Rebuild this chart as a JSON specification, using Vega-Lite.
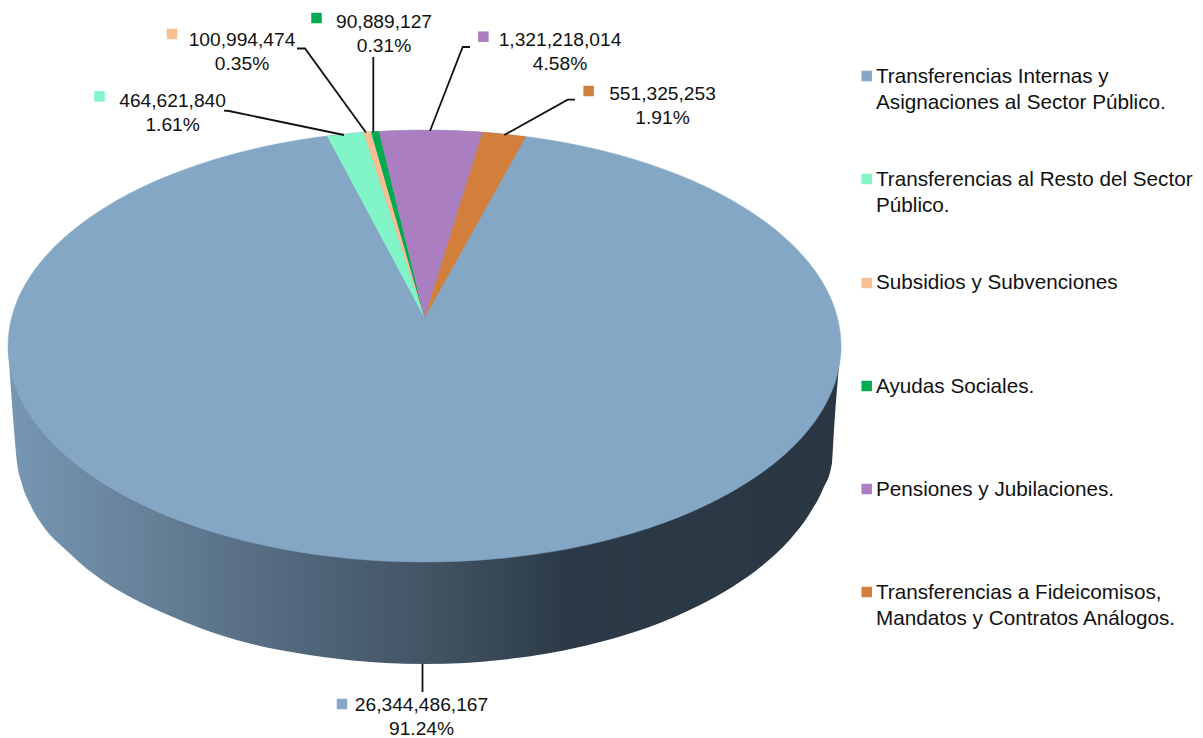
{
"$schema":"https://vega.github.io/schema/vega-lite/v6.json",
"width":1203,"height":738,
"autosize":{"type":"none"},
"padding":0,
"background":"white",
"view":{"stroke":null},
"config":{"font":"Liberation Sans"},
"datasets":{
"wall":[{"x":8,"y":346,"y2":346},{"x":14,"y":346,"y2":430},{"x":16.7,"y":346,"y2":460},{"x":21.7,"y":346,"y2":483},{"x":30,"y":346,"y2":504},{"x":43,"y":346,"y2":526},{"x":67,"y":346,"y2":551},{"x":93,"y":346,"y2":573.6},{"x":133,"y":346,"y2":598.6},{"x":167,"y":346,"y2":614.5},{"x":200,"y":346,"y2":628},{"x":250,"y":346,"y2":643.5},{"x":300,"y":346,"y2":653.6},{"x":350,"y":346,"y2":660.3},{"x":385,"y":346,"y2":663},{"x":424.5,"y":346,"y2":664},{"x":465,"y":346,"y2":662.9},{"x":500,"y":346,"y2":660},{"x":550,"y":346,"y2":653},{"x":600,"y":346,"y2":642},{"x":650,"y":346,"y2":626.7},{"x":700,"y":346,"y2":605},{"x":733,"y":346,"y2":586.5},{"x":763,"y":346,"y2":565},{"x":790,"y":346,"y2":539.5},{"x":810,"y":346,"y2":513},{"x":823,"y":346,"y2":489},{"x":832,"y":346,"y2":463},{"x":834,"y":346,"y2":430},{"x":841,"y":346,"y2":346}],
"top":[{"i":0,"x":841,"y":346},{"i":1,"x":834.7,"y":383.5},{"i":2,"x":815.9,"y":419.9},{"i":3,"x":785.2,"y":454},{"i":4,"x":743.5,"y":484.8},{"i":5,"x":692.2,"y":511.5},{"i":6,"x":632.8,"y":533.1},{"i":7,"x":566.9,"y":549},{"i":8,"x":496.8,"y":558.7},{"i":9,"x":424.5,"y":562},{"i":10,"x":352.2,"y":558.7},{"i":11,"x":282.1,"y":549},{"i":12,"x":216.2,"y":533.1},{"i":13,"x":156.8,"y":511.5},{"i":14,"x":105.5,"y":484.8},{"i":15,"x":63.8,"y":454},{"i":16,"x":33.1,"y":419.9},{"i":17,"x":14.3,"y":383.5},{"i":18,"x":8,"y":346},{"i":19,"x":14.3,"y":308.5},{"i":20,"x":33.1,"y":272.1},{"i":21,"x":63.8,"y":238},{"i":22,"x":105.5,"y":207.2},{"i":23,"x":156.8,"y":180.5},{"i":24,"x":216.2,"y":158.9},{"i":25,"x":282.1,"y":143},{"i":26,"x":352.2,"y":133.3},{"i":27,"x":424.5,"y":130},{"i":28,"x":496.8,"y":133.3},{"i":29,"x":566.9,"y":143},{"i":30,"x":632.8,"y":158.9},{"i":31,"x":692.2,"y":180.5},{"i":32,"x":743.5,"y":207.2},{"i":33,"x":785.2,"y":238},{"i":34,"x":815.9,"y":272.1},{"i":35,"x":834.7,"y":308.5}],
"wedges":[
{"c":"Transferencias al Resto del Sector Público.","i":0,"x":424.5,"y":318},{"c":"Transferencias al Resto del Sector Público.","i":1,"x":327,"y":136},{"c":"Transferencias al Resto del Sector Público.","i":2,"x":345,"y":134},{"c":"Transferencias al Resto del Sector Público.","i":3,"x":363.5,"y":132.3},
{"c":"Subsidios y Subvenciones","i":0,"x":424.5,"y":318},{"c":"Subsidios y Subvenciones","i":1,"x":363.5,"y":132.3},{"c":"Subsidios y Subvenciones","i":2,"x":371,"y":131.8},
{"c":"Ayudas Sociales.","i":0,"x":424.5,"y":318},{"c":"Ayudas Sociales.","i":1,"x":371,"y":131.8},{"c":"Ayudas Sociales.","i":2,"x":379,"y":131.3},
{"c":"Pensiones y Jubilaciones.","i":0,"x":424.5,"y":318},{"c":"Pensiones y Jubilaciones.","i":1,"x":379,"y":131.3},{"c":"Pensiones y Jubilaciones.","i":2,"x":400,"y":130.4},{"c":"Pensiones y Jubilaciones.","i":3,"x":424.5,"y":130},{"c":"Pensiones y Jubilaciones.","i":4,"x":455,"y":130.6},{"c":"Pensiones y Jubilaciones.","i":5,"x":482.5,"y":132.1},
{"c":"Transferencias a Fideicomisos, Mandatos y Contratos Análogos.","i":0,"x":424.5,"y":318},{"c":"Transferencias a Fideicomisos, Mandatos y Contratos Análogos.","i":1,"x":482.5,"y":132.1},{"c":"Transferencias a Fideicomisos, Mandatos y Contratos Análogos.","i":2,"x":505,"y":134.1},{"c":"Transferencias a Fideicomisos, Mandatos y Contratos Análogos.","i":3,"x":526,"y":136.5}
],
"leaders":[
{"c":"a","i":0,"x":422.5,"y":664},{"c":"a","i":1,"x":422.5,"y":692},
{"c":"b","i":0,"x":224,"y":110.7},{"c":"b","i":1,"x":229,"y":111},{"c":"b","i":2,"x":344,"y":135},
{"c":"c","i":0,"x":297,"y":48.5},{"c":"c","i":1,"x":305,"y":48.5},{"c":"c","i":2,"x":366,"y":132.5},
{"c":"d","i":0,"x":373.3,"y":57},{"c":"d","i":1,"x":373.3,"y":132},
{"c":"e","i":0,"x":470,"y":47},{"c":"e","i":1,"x":462.7,"y":47},{"c":"e","i":2,"x":430,"y":131},
{"c":"f","i":0,"x":575,"y":99.7},{"c":"f","i":1,"x":567.7,"y":99.7},{"c":"f","i":2,"x":504.3,"y":135}
],
"labels":[
{"c":"Transferencias Internas y Asignaciones al Sector Público.","t":"26,344,486,167\n91.24%","x":421.5,"y":710.5,"sx":342,"sy":704},
{"c":"Transferencias al Resto del Sector Público.","t":"464,621,840\n1.61%","x":172.6,"y":107,"sx":99.5,"sy":96.3},
{"c":"Subsidios y Subvenciones","t":"100,994,474\n0.35%","x":242,"y":45.7,"sx":172,"sy":34},
{"c":"Ayudas Sociales.","t":"90,889,127\n0.31%","x":384,"y":28.3,"sx":316.5,"sy":18},
{"c":"Pensiones y Jubilaciones.","t":"1,321,218,014\n4.58%","x":560,"y":45.7,"sx":483.4,"sy":36.7},
{"c":"Transferencias a Fideicomisos, Mandatos y Contratos Análogos.","t":"551,325,253\n1.91%","x":662.5,"y":100,"sx":588.6,"sy":91}
],
"legend":[
{"c":"Transferencias Internas y Asignaciones al Sector Público.","t":"Transferencias Internas y\nAsignaciones al Sector Público.","x":876,"y":83,"sx":866.7,"sy":76},
{"c":"Transferencias al Resto del Sector Público.","t":"Transferencias al Resto del Sector\nPúblico.","x":876,"y":186,"sx":866.7,"sy":179},
{"c":"Subsidios y Subvenciones","t":"Subsidios y Subvenciones","x":876,"y":289,"sx":866.7,"sy":283},
{"c":"Ayudas Sociales.","t":"Ayudas Sociales.","x":876,"y":393,"sx":866.7,"sy":386},
{"c":"Pensiones y Jubilaciones.","t":"Pensiones y Jubilaciones.","x":876,"y":496,"sx":866.7,"sy":489},
{"c":"Transferencias a Fideicomisos, Mandatos y Contratos Análogos.","t":"Transferencias a Fideicomisos,\nMandatos y Contratos Análogos.","x":876,"y":599,"sx":866.7,"sy":592}
]
},
"encoding":{
"x":{"field":"x","type":"quantitative","scale":{"domain":[0,1203],"nice":false,"zero":false},"axis":null},
"y":{"field":"y","type":"quantitative","scale":{"domain":[738,0],"nice":false,"zero":false},"axis":null}
},
"layer":[
{"data":{"name":"wall"},
 "mark":{"type":"area","interpolate":"monotone","fill":{"gradient":"linear","x1":0,"x2":1,"y1":0,"y2":0,"stops":[{"offset":0,"color":"#7797b3"},{"offset":0.17,"color":"#668098"},{"offset":0.34,"color":"#52687d"},{"offset":0.5,"color":"#435565"},{"offset":0.67,"color":"#2c3a47"},{"offset":1,"color":"#2a3743"}]}},
 "encoding":{"y2":{"field":"y2"}}},
{"data":{"name":"top"},
 "mark":{"type":"line","interpolate":"cardinal-closed","fill":"#85A7C6","stroke":"#85A7C6","strokeWidth":0.5},
 "encoding":{"order":{"field":"i","type":"quantitative"}}},
{"data":{"name":"wedges"},
 "mark":{"type":"line","strokeWidth":0,"stroke":null},
 "encoding":{"order":{"field":"i","type":"quantitative"},
  "detail":{"field":"c"},
  "fill":{"field":"c","type":"nominal","legend":null,"scale":{"domain":["Transferencias Internas y Asignaciones al Sector Público.","Transferencias al Resto del Sector Público.","Subsidios y Subvenciones","Ayudas Sociales.","Pensiones y Jubilaciones.","Transferencias a Fideicomisos, Mandatos y Contratos Análogos."],"range":["#85A7C6","#82F5C8","#F8BF93","#00AC4E","#AA7EC0","#D27F3B"]}}}},
{"data":{"name":"leaders"},
 "mark":{"type":"line","stroke":"#111111","strokeWidth":1.8},
 "encoding":{"order":{"field":"i","type":"quantitative"},"detail":{"field":"c"}}},
{"data":{"name":"labels"},
 "mark":{"type":"square","size":110,"opacity":1,"filled":true},
 "encoding":{"x":{"field":"sx","type":"quantitative"},"y":{"field":"sy","type":"quantitative"},"fill":{"field":"c","type":"nominal","legend":null}}},
{"data":{"name":"labels"},
 "mark":{"type":"text","font":"Liberation Sans","fontSize":19.2,"align":"center","baseline":"alphabetic","lineBreak":"\n","lineHeight":24,"fill":"#111111"},
 "encoding":{"text":{"field":"t"}}},
{"data":{"name":"legend"},
 "mark":{"type":"square","size":110,"opacity":1,"filled":true},
 "encoding":{"x":{"field":"sx","type":"quantitative"},"y":{"field":"sy","type":"quantitative"},"fill":{"field":"c","type":"nominal","legend":null}}},
{"data":{"name":"legend"},
 "mark":{"type":"text","font":"Liberation Sans","fontSize":20.7,"align":"left","baseline":"alphabetic","lineBreak":"\n","lineHeight":26,"fill":"#111111"},
 "encoding":{"text":{"field":"t"}}}
]
}
